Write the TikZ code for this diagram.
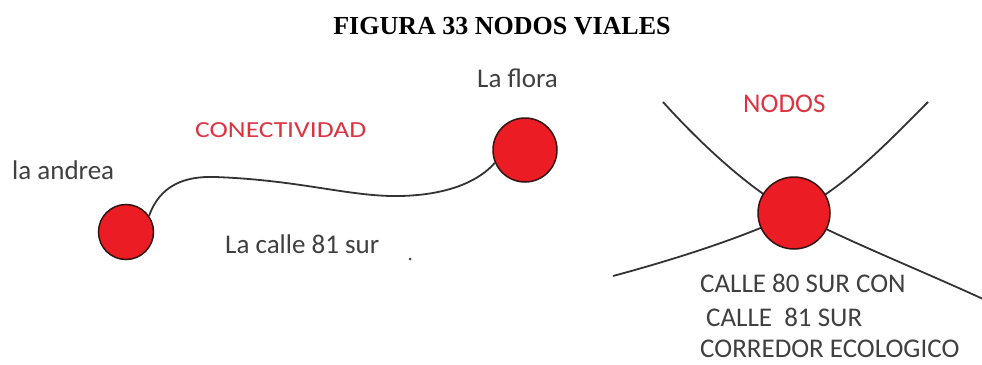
\documentclass[tikz,border=0pt]{standalone}
\usepackage{fontspec}
\setmainfont{Liberation Serif}
\newfontfamily\calibri{Carlito}
\newfontfamily\calibriwide[FakeStretch=1.2]{Carlito}
\definecolor{punto rojo}{RGB}{236,28,36}
\definecolor{borde}{RGB}{50,20,20}
\definecolor{texto}{RGB}{64,64,64}
\definecolor{titulo rojo}{RGB}{222,52,66}
\tikzset{
  punto/.style={circle, fill=punto rojo, draw=borde, line width=1.5pt, inner sep=0pt},
  via/.style={draw=black!80, line width=1.8pt},
  etiqueta/.style={font=\calibri\fontsize{27}{33}\selectfont, text=texto, inner sep=0pt, anchor=base west}
  }
\tikzstyle{rotulo} = [etiqueta, text=titulo rojo]

\begin{document}
\begin{tikzpicture}[x=1pt,y=-1pt]

    % the page
    \useasboundingbox[fill=white] (0,0) rectangle (982,364);
    \node[font=\bfseries\fontsize{26}{30}\selectfont, anchor=base] (titulo) at (502,34) {FIGURA 33 NODOS VIALES};

    % The two ends of the road
    \foreach \pos/\name/\size in {{(126,232)/andrea/55}, {(525,150)/flora/64}}
      \node[punto, minimum size=\size pt] (\name) at \pos {};

    % The road between them
    \path[via] (andrea.35) .. controls (160,185) and (185,176) .. (215,177)
      .. controls (300,180) and (350,197) .. (400,196)
      .. controls (450,195) and (480,180) .. (flora.203);
    \fill[texto] (410,259) circle (1.5pt);

    % The crossing and its four arms
    \coordinate (cruce) at (794,213);
    \coordinate (brazo noroeste) at (663,102);
    \coordinate (brazo sureste) at (983,299);
    \coordinate (brazo suroeste) at (613,276);
    \coordinate (brazo noreste) at (928,102);
    \path[via] (brazo noroeste) .. controls (700,143) and (750,190) .. (cruce)
      .. controls (847,241) and (920,270) .. (brazo sureste);
    \path[via] (brazo suroeste) .. controls (680,258) and (750,235) .. (cruce)
      .. controls (845,188) and (890,140) .. (brazo noreste);
    \node[punto, minimum size=72pt] (nodo) at (cruce) {};

    % The labels
    \node[etiqueta] (andrea texto) at (12,179) {la andrea};
    \node[etiqueta] (flora texto) at (477,87) {La flora};
    \node[etiqueta] (calle texto) at (225,253) {La calle 81 sur};
    \node[rotulo, font=\calibriwide\fontsize{23}{27}\selectfont] (conectividad) at (195,137) {CONECTIVIDAD};
    \node[rotulo] (nodos) at (743,112) {NODOS};
    \node[etiqueta] (linea1) at (700,292) {CALLE 80 SUR CON};
    \node[etiqueta] (linea2) at (706,326) {CALLE\ \ 81 SUR};
    \node[etiqueta] (linea3) at (700,357) {CORREDOR ECOLOGICO};
\end{tikzpicture}
\end{document}
